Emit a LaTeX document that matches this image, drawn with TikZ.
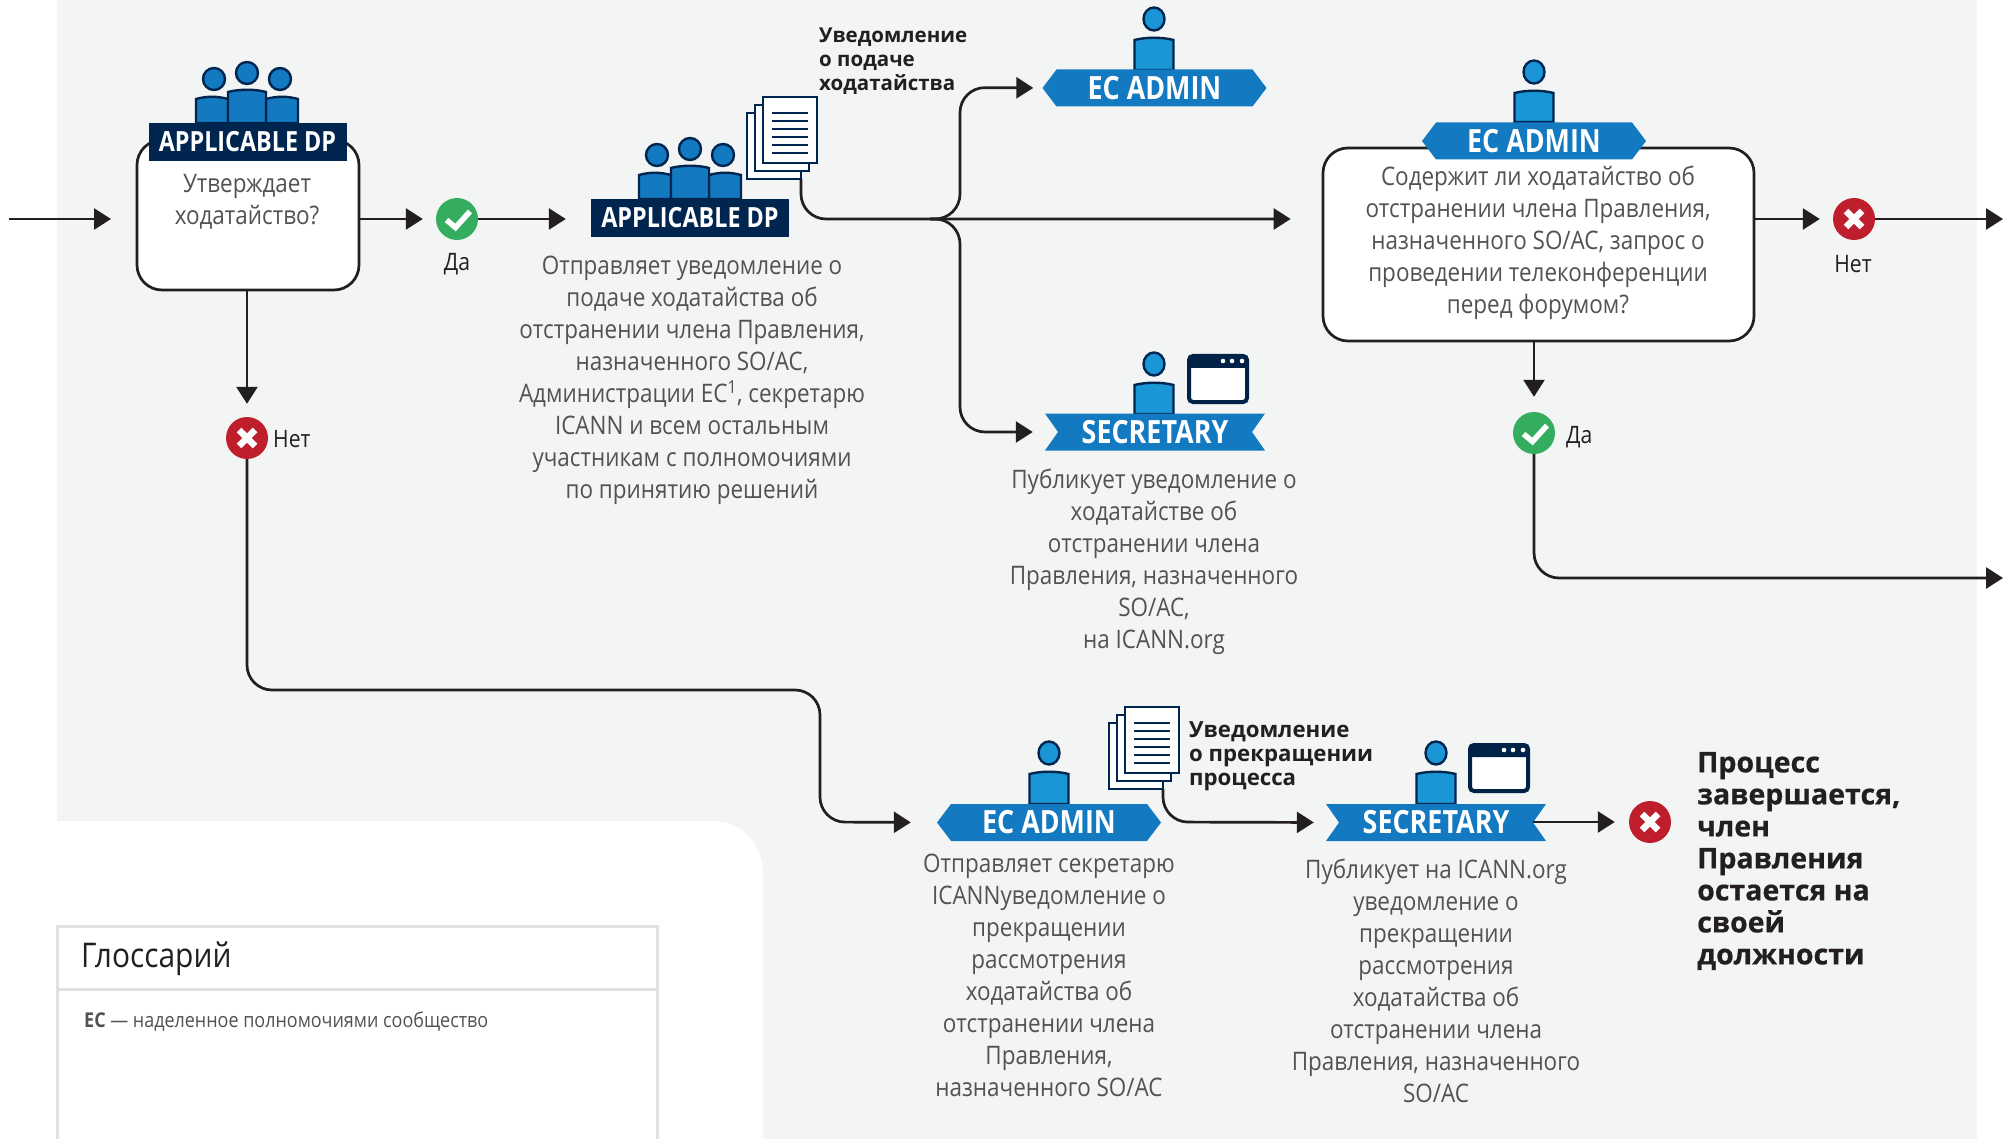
\documentclass[tikz,border=0pt]{standalone}
\usepackage{fontspec}
\setmainfont{Open Sans}
\newfontfamily\bodyf[FakeStretch=0.88]{Open Sans}
\newfontfamily\banf[FakeStretch=0.84]{Open Sans}
\newfontfamily\heavyf[BoldFeatures={FakeBold=0.5}]{Open Sans}
\usetikzlibrary{arrows.meta,calc}
\definecolor{bgc}{HTML}{F3F4F4}
\definecolor{navy}{HTML}{00264F}
\definecolor{bluea}{HTML}{1379C0}
\definecolor{blueb}{HTML}{1A96D6}
\definecolor{lineC}{HTML}{231F20}
\definecolor{txtc}{HTML}{525254}
\definecolor{okc}{HTML}{34AE5E}
\definecolor{noc}{HTML}{BF1E2D}
\definecolor{glc}{HTML}{E0E1E2}
\tikzset{
  x=1pt,y=-1pt,
  flow/.style={draw=lineC,line width=2.7pt,-{Triangle[length=17pt,width=21pt]}},
  decision/.style={draw=lineC,line width=2.7pt,fill=white,rounded corners=25pt,inner sep=0pt},
  bodytext/.style={font=\bodyf\fontsize{25.5}{32}\selectfont,text=txtc,align=center,inner sep=0pt},
  smalltext/.style={font=\bodyf\fontsize{24}{28}\selectfont,text=lineC,inner sep=0pt},
  boldlabel/.style={font=\fontsize{20.5}{24}\selectfont\bfseries,text=lineC,align=left,anchor=west,inner sep=0pt},
  boldlabelb/.style={font=\fontsize{22.2}{24}\selectfont\bfseries,text=lineC,align=left,anchor=west,inner sep=0pt},
  bantext/.style={font=\banf\fontsize{32}{34}\selectfont\bfseries,text=white,inner sep=0pt},
  dptext/.style={font=\banf\fontsize{27.8}{30}\selectfont\bfseries,text=white,inner sep=0pt},
  okdot/.style={circle,fill=okc,minimum size=42pt,inner sep=0pt},
  nodot/.style={circle,fill=noc,minimum size=42pt,inner sep=0pt},
  personline/.style={draw=navy,line width=2.4pt},
  sheet/.style={draw=navy,line width=2.6pt,fill=white,inner sep=0pt,outer sep=0pt,minimum width=54pt,minimum height=66pt},
}
\newcommand{\okmark}[1]{\draw[white,line width=5.5pt] ($(#1)+(-10.5,1)$) -- ($(#1)+(-1.5,8.5)$) -- ($(#1)+(13,-7.5)$);}
\newcommand{\nomark}[1]{\draw[white,line width=6.5pt] ($(#1)+(-8,-8)$) -- ($(#1)+(8,8)$) ($(#1)+(-8,8)$) -- ($(#1)+(8,-8)$);}
% person: cx, head y, bottom y, fill
\newcommand{\persona}[4]{%
  \filldraw[personline,fill=#4] (#1,#2) ellipse (10.5 and 11.5);
  \filldraw[personline,fill=#4] ({#1-19.5},#3) -- ({#1-19.5},{#2+21}) .. controls ({#1-8},{#2+18}) and ({#1+8},{#2+18}) .. ({#1+19.5},{#2+21}) -- ({#1+19.5},#3) -- cycle;}
\newcommand{\group}[2]{%
  \filldraw[personline,fill=bluea] ({#1-33},{#2-44}) circle (11);
  \filldraw[personline,fill=bluea] ({#1+33},{#2-44}) circle (11);
  \filldraw[personline,fill=bluea] (#1,{#2-50}) circle (11);
  \filldraw[personline,fill=bluea] ({#1-51},{#2}) -- ({#1-51},{#2-24}) .. controls ({#1-40},{#2-27}) and ({#1-30},{#2-27}) .. ({#1-19},{#2-24}) -- ({#1-19},{#2}) -- cycle;
  \filldraw[personline,fill=bluea] ({#1+19},{#2}) -- ({#1+19},{#2-24}) .. controls ({#1+30},{#2-27}) and ({#1+40},{#2-27}) .. ({#1+51},{#2-24}) -- ({#1+51},{#2}) -- cycle;
  \filldraw[personline,fill=bluea] ({#1-19},{#2}) -- ({#1-19},{#2-31}) .. controls ({#1-8},{#2-34}) and ({#1+8},{#2-34}) .. ({#1+19},{#2-31}) -- ({#1+19},{#2}) -- cycle;}
% banners: name, cx, cy
\newcommand{\ecbanner}[3]{%
  \fill[bluea] ({#2-112},#3) -- ({#2-98},{#3-18.5}) -- ({#2+98},{#3-18.5}) -- ({#2+112},#3) -- ({#2+98},{#3+18.5}) -- ({#2-98},{#3+18.5}) -- cycle;
  \node[bantext,minimum width=224pt,minimum height=37pt] (#1) at (#2,#3) {EC ADMIN};}
\newcommand{\secbanner}[3]{%
  \fill[bluea] ({#2-110},{#3-18.5}) -- ({#2+110},{#3-18.5}) -- ({#2+97},#3) -- ({#2+110},{#3+18.5}) -- ({#2-110},{#3+18.5}) -- ({#2-97},#3) -- cycle;
  \node[bantext,minimum width=220pt,minimum height=37pt] (#1) at (#2,#3) {SECRETARY};}
\newcommand{\dpbanner}[3]{%
  \node[dptext,fill=navy,minimum width=198pt,minimum height=38pt] (#1) at (#2,#3) {APPLICABLE DP};}
% documents: name, back-sheet left, back-sheet top
\newcommand{\docs}[3]{%
  \node[sheet,anchor=north west] (#1) at (#2,#3) {};
  \node[sheet,anchor=north west] (#1m) at ({#2+8},{#3-8}) {};
  \node[sheet,anchor=north west] (#1f) at ({#2+16},{#3-16}) {};
  \foreach \k in {0,1,2,3,4,5}{\draw[navy,line width=2.6pt] ({#2+25},{#3+\k*8}) -- ({#2+61},{#3+\k*8});}}
% browser: left, top
\newcommand{\browser}[2]{%
  \filldraw[draw=navy!90!black,line width=4pt,fill=white,rounded corners=4pt] ({#1+2},{#2+2}) rectangle ({#1+60},{#2+48});
  \fill[navy!90!black,rounded corners=3pt] ({#1+1},{#2+1}) rectangle ({#1+61},{#2+14});
  \foreach \k in {36,45,55}{\fill[white] ({#1+\k},{#2+7}) circle (2.3);}}
\begin{document}
\begin{tikzpicture}
\useasboundingbox (0,0) rectangle (2010,1139);
\fill[white] (0,0) rectangle (2010,1139);
\fill[bgc] (57,0) rectangle (1977,1139);
\fill[white] (0,1139) -- (0,821) -- (713,821) .. controls (743,821) and (763,845) .. (763,875) -- (763,1139) -- cycle;
% glossary
\draw[glc,line width=3pt] (57,1139) -- (57,926) -- (657,926) -- (657,1139);
\draw[glc,line width=3pt] (57,989) -- (657,989);
\node[font=\bodyf\fontsize{34}{38}\selectfont,text=lineC,anchor=west,inner sep=0pt] (glt) at (81,959) {Глоссарий};
\node[font=\bodyf\fontsize{20.4}{24}\selectfont,text=txtc,anchor=west,inner sep=0pt] (gld) at (84,1022) {\textbf{EC} — наделенное полномочиями сообщество};
% dots
\node[okdot] (yes1) at (457,219) {}; \okmark{yes1}
\node[nodot] (no1) at (247,438) {}; \nomark{no1}
\node[nodot] (no2) at (1854,219) {}; \nomark{no2}
\node[okdot] (yes2) at (1534,433) {}; \okmark{yes2}
\node[nodot] (no3) at (1650,822) {}; \nomark{no3}
% first decision
\coordinate (in1) at (9,219);
\node[decision,minimum width=222pt,minimum height=150pt] (box1) at (248,215) {};
\group{247}{123}
\dpbanner{dp1}{247.5}{142}
\node[bodytext] (t1) at (247,201.5) {Утверждает\\ходатайство?};
% second decision
\node[decision,minimum width=431pt,minimum height=193pt] (box2) at (1538.5,244.5) {};
\persona{1534}{72}{122}{blueb}
\ecbanner{ec2}{1534}{141}
\node[bodytext] (t2) at (1538,243) {Содержит ли ходатайство об\\отстранении члена Правления,\\назначенного SO/AC, запрос о\\проведении телеконференции\\перед форумом?};
% dp 2
\group{690}{199}
\dpbanner{dp2}{690}{218}
\docs{doc1}{747}{113}
\node[bodytext] (t3) at (692,380.5) {Отправляет уведомление о\\подаче ходатайства об\\отстранении члена Правления,\\назначенного SO/AC,\\Администрации EC\textsuperscript{1}, секретарю\\ICANN и всем остальным\\участникам с полномочиями\\по принятию решений};
\node[boldlabel] (l1) at (819,61) {Уведомление\\о подаче\\ходатайства};
% top EC admin
\persona{1154}{19}{70}{blueb}
\ecbanner{ec1}{1154.5}{88}
% top secretary
\persona{1154}{364}{414}{blueb}
\secbanner{sec1}{1155}{432}
\browser{1187}{354}
\node[bodytext] (t4) at (1154,561.5) {Публикует уведомление о\\ходатайстве об\\отстранении члена\\Правления, назначенного\\SO/AC,\\на ICANN.org};
% bottom EC admin
\persona{1049}{753}{804}{blueb}
\ecbanner{ec3}{1049}{822.5}
\docs{doc2}{1109}{723}
\node[bodytext] (t5) at (1049,975) {Отправляет секретарю\\ICANNуведомление о\\прекращении\\рассмотрения\\ходатайства об\\отстранении члена\\Правления,\\назначенного SO/AC};
\node[boldlabelb] (l2) at (1189,756.5) {Уведомление\\о прекращении\\процесса};
% bottom secretary
\persona{1436}{753}{804}{blueb}
\secbanner{sec2}{1436}{822.5}
\browser{1468}{743}
\node[bodytext] (t6) at (1436,981) {Публикует на ICANN.org\\уведомление о\\прекращении\\рассмотрения\\ходатайства об\\отстранении члена\\Правления, назначенного\\SO/AC};
% end text
\node[font=\heavyf\fontsize{28.5}{32}\selectfont\bfseries,text=lineC,align=left,anchor=west,inner sep=0pt] (t7) at (1697,861) {Процесс\\завершается,\\член\\Правления\\остается на\\своей\\должности};
% yes/no labels
\node[smalltext] (ya1) at (457,264) {Да};
\node[smalltext,anchor=west] (na1) at (273,439) {Нет};
\node[smalltext] (na2) at (1853,264) {Нет};
\node[smalltext,anchor=west] (ya2) at (1566,437) {Да};
% connectors
\coordinate (e1) at (111,219);
\draw[flow] (in1) -- (e1);
\draw[flow,shorten >=13pt] (box1.east |- yes1) -- (yes1.west);
\draw[flow,shorten >=25pt] (yes1.east) -- (dp2.west |- yes1);
\draw[flow,shorten >=13pt] (box1.south -| no1) -- (no1.north);
\draw[flow,rounded corners=25pt,shorten >=26pt] (no1.south) -- (247,690) -- (820,690) -- (820,822) -- (ec3.west);
\coordinate (b1) at (801,219);
\coordinate (j1) at (930,219);
\draw[flow,rounded corners=25pt,shorten >=31pt] (doc1.south east) -- (b1) -- (box2.west |- b1);
\draw[flow,rounded corners=25pt,shorten >=9pt] (j1) -- (960,219) -- (960,87.5) -- (ec1.west);
\draw[flow,rounded corners=25pt,shorten >=12pt] (j1) -- (960,219) -- (960,432) -- (sec1.west);
\draw[flow,shorten >=13pt] (box2.east |- no2) -- (no2.west);
\coordinate (e2) at (2003,219);
\draw[flow] (no2.east) -- (e2);
\draw[flow,shorten >=15pt] (box2.south -| yes2) -- (yes2.north);
\coordinate (e3) at (2003,578);
\draw[flow,rounded corners=25pt] (yes2.south) -- (1534,578) -- (e3);
\draw[flow,rounded corners=25pt,shorten >=12pt] (doc2.south east) -- (1163,822) -- (sec2.west);
\draw[flow,shorten >=14pt] (1533,822) -- (no3.west);
\end{tikzpicture}
\end{document}
